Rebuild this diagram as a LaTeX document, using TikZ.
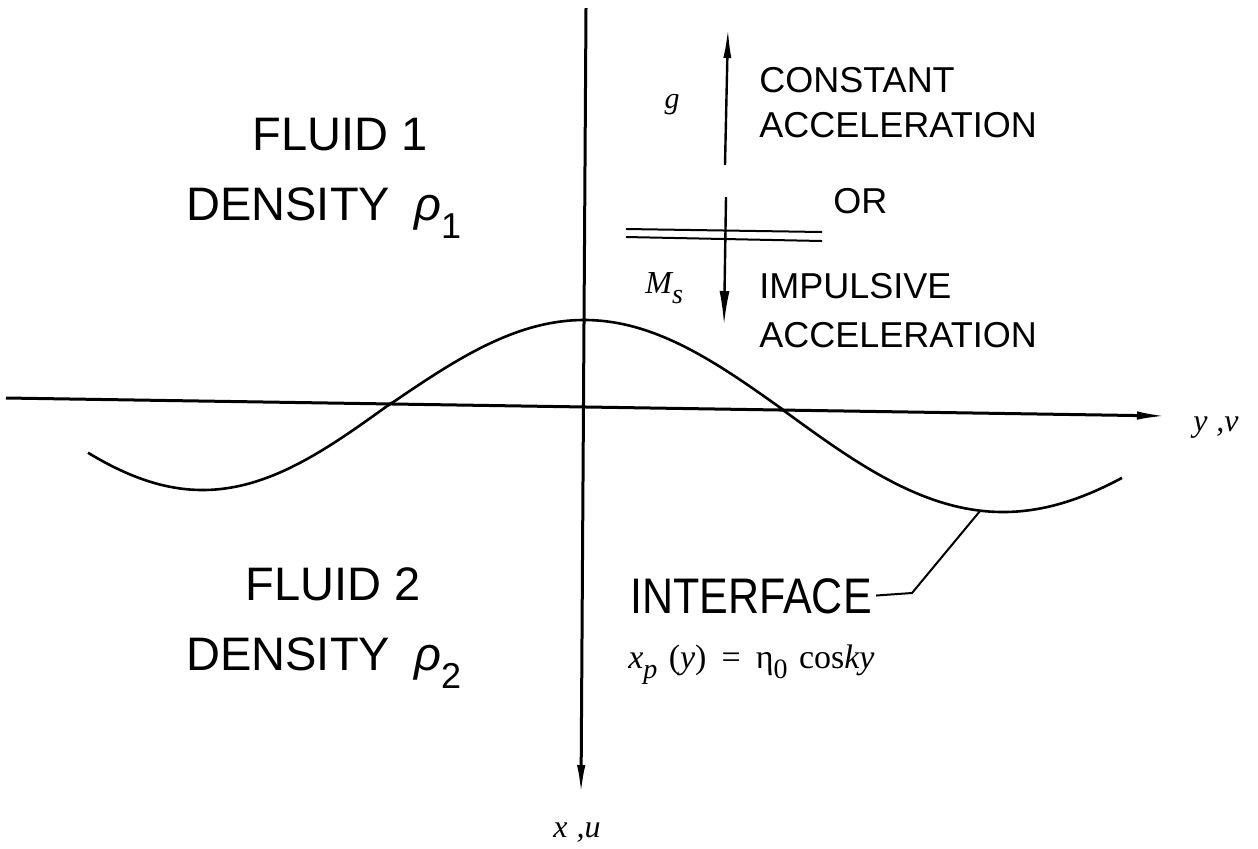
\documentclass[tikz,border=0pt]{standalone}
\usepackage{fontspec}
\setmainfont{Liberation Sans}
\newfontfamily\tms{Liberation Serif}
\usetikzlibrary{arrows.meta}
\begin{document}
\begin{tikzpicture}[x=0.5pt,y=-0.5pt,
  axisline/.style={line width=1.5pt,-{Latex[length=15pt,width=4.2pt]}},
  curveline/.style={line width=1.3pt},
  thinline/.style={line width=1pt},
  accarrow/.style={line width=1.2pt,-{Latex[length=15pt,width=4pt]}},
  biglbl/.style={inner sep=0pt,anchor=base west,font=\fontsize{23.5pt}{28pt}\selectfont},
  smalllbl/.style={inner sep=0pt,anchor=base west,font=\fontsize{18pt}{22pt}\selectfont},
  mth/.style={inner sep=0pt,font=\tms\fontsize{16pt}{19pt}\selectfont}]
\useasboundingbox (0,0) rectangle (1258,848);
\def\ax{(398+0.0155*(\x-7))}
% axes
\coordinate (vtop) at (586,8);
\coordinate (vtip) at (581,795);
\coordinate (hleft) at (6,398);
\coordinate (htip) at (1167,416);
\draw[axisline] (vtop) -- (vtip);
\draw[axisline] (hleft) -- (htip);
\node[mth,anchor=base] (xu) at (577,837) {\itshape x\;,u};
\node[mth,anchor=base west] (yv) at (1193,431) {\itshape y\;,v};
% interface curve
\draw[curveline]
  plot[domain=88:390,samples=60] (\x,{\ax+89*cos((\x-200)/190*90)})
  -- plot[domain=390:783,samples=70] (\x,{\ax-87*cos((\x-587)/196.5*90)})
  -- plot[domain=783:1122,samples=60] (\x,{\ax+98.6*sin((\x-783)/217*90)});
% fluid labels
\node[biglbl] (f1) at (252,150) {FLUID 1};
\node[biglbl] (d1) at (186,220) {DENSITY\hspace{12pt}\textit{ρ}\raisebox{-9pt}{\fontsize{18pt}{20pt}\selectfont 1}};
\node[biglbl] (f2) at (245,600) {FLUID 2};
\node[biglbl] (d2) at (186,670) {DENSITY\hspace{12pt}\textit{ρ}\raisebox{-9pt}{\fontsize{18pt}{20pt}\selectfont 2}};
% acceleration
\coordinate (garrowbot) at (725,165);
\coordinate (garrowtop) at (728,28);
\draw[accarrow] (garrowbot) -- (garrowtop);
\coordinate (marrowtop) at (726,197);
\coordinate (marrowtip) at (724,325);
\draw[line width=1.2pt,-{Latex[length=17pt,width=5pt]}] (marrowtop) -- (marrowtip);
\coordinate (pa1) at (626,229); \coordinate (pb1) at (822,232);
\coordinate (pa2) at (626,237); \coordinate (pb2) at (822,241);
\draw[thinline] (pa1) -- (pb1);
\draw[thinline] (pa2) -- (pb2);
\node[mth,anchor=base,font=\tms\fontsize{15pt}{18pt}\selectfont] (g) at (672,108) {\itshape g};
\node[mth,anchor=base west] (ms) at (645,293) {\itshape M\raisebox{-5pt}{\fontsize{14pt}{16pt}\selectfont s}};
\node[smalllbl] (c1) at (759,92) {CONSTANT};
\node[smalllbl] (c2) at (759,137) {ACCELERATION};
\node[smalllbl] (or) at (833,213) {OR};
\node[smalllbl] (i1) at (759,298) {IMPULSIVE};
\node[smalllbl] (i2) at (759,347) {ACCELERATION};
% interface label
\node[inner sep=0pt,anchor=base west,font=\fontsize{25pt}{30pt}\selectfont] (intf) at (630,613) {\scalebox{0.86}[1]{INTERFACE}};
\coordinate (lbend) at (912,593);
\coordinate (ltop) at (980,511);
\draw[thinline,shorten <=2pt] (intf.east) -- (lbend) -- (ltop);
\node[mth,anchor=base west,font=\tms\fontsize{17pt}{20pt}\selectfont] (eq) at (628,668) {\itshape x\raisebox{-5pt}{\fontsize{14pt}{15pt}\selectfont p}\,\,\upshape(\itshape y\upshape)\;\,=\;\,η\raisebox{-5pt}{\fontsize{14pt}{15pt}\selectfont 0}\,\,cos\itshape ky};
\end{tikzpicture}
\end{document}
